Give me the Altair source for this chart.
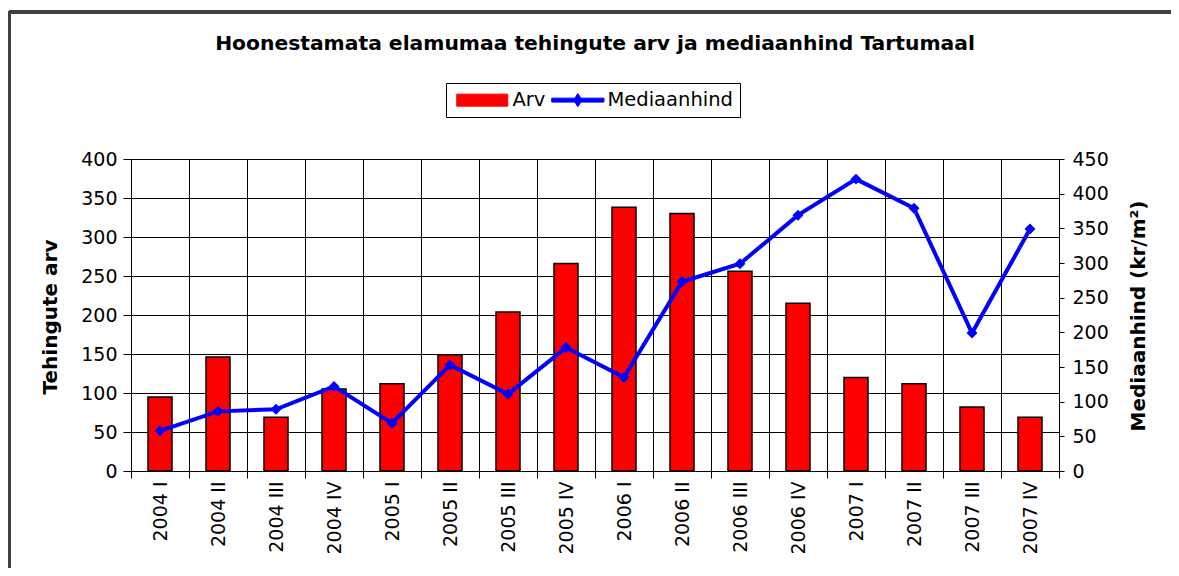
import altair as alt
import pandas as pd

periods = ["2004 I", "2004 II", "2004 III", "2004 IV",
           "2005 I", "2005 II", "2005 III", "2005 IV",
           "2006 I", "2006 II", "2006 III", "2006 IV",
           "2007 I", "2007 II", "2007 III", "2007 IV"]
arv = [95, 146, 69, 105, 112, 149, 204, 266, 338, 330, 256, 215, 120, 112, 82, 69]
mediaanhind = [58, 86, 89, 122, 69, 153, 111, 178, 135, 273, 299, 369, 421, 379, 199, 349]

title_text = "Hoonestamata elamumaa tehingute arv ja mediaanhind Tartumaal"
left_title = "Tehingute arv"
right_title = "Mediaanhind (kr/m²)"
series_names = ["Arv", "Mediaanhind"]
series_colors = ["#FF0000", "#0000FF"]

df = pd.DataFrame({"period": periods, "arv": arv, "mediaan": mediaanhind})

FONT = "DejaVu Sans"

xscale = alt.Scale(type="band", paddingInner=0, paddingOuter=0)
x_axis = alt.Axis(
    title=None, labelAngle=-90, labelAlign="right", labelBaseline="middle",
    labelFont=FONT, labelFontSize=19, labelColor="black", labelPadding=3,
    tickBand="extent", grid=True, gridColor="black", gridWidth=1, gridOpacity=1,
    domainColor="black", domainWidth=1, tickColor="black", tickSize=7,
)

color_scale = alt.Scale(domain=series_names, range=series_colors)
legend = alt.Legend(
    title=None, orient="none", legendX=315, legendY=-76, direction="horizontal",
    strokeColor="black", fillColor="white", padding=7, cornerRadius=0,
    labelFont=FONT, labelFontSize=19.5, labelColor="black", labelOffset=40,
    symbolSize=144, columnPadding=2,
    symbolType=alt.ExprRef("datum.value === 'Arv' ? 'M-1,-1H7.5V1H-1Z' : 'M-1,-0.33H7.7V0.33H-1Z M3.35,-1.1L4.05,0L3.35,1.1L2.65,0Z'"),
    symbolStrokeColor=alt.ExprRef("datum.value === 'Arv' ? 'black' : '#0000FF'"),
    symbolStrokeWidth=1, symbolOpacity=1,
)

bars = alt.Chart(df).transform_calculate(series="'Arv'").mark_bar(
    stroke="black", strokeWidth=1.5, width=alt.RelativeBandSize(0.414)
).encode(
    x=alt.X("period:N", sort=periods, scale=xscale, axis=x_axis),
    y=alt.Y("arv:Q", scale=alt.Scale(domain=[0, 400], nice=False),
            axis=alt.Axis(
                values=list(range(0, 401, 50)), title=left_title,
                titleFont=FONT, titleFontWeight="bold", titleFontSize=20, titleColor="black",
                titleAngle=-90, titleX=-81, titleY=157.5, titleAlign="center", titleBaseline="middle",
                labelFont=FONT, labelFontSize=19, labelColor="black", labelPadding=6,
                grid=True, gridColor="black", gridWidth=1, gridOpacity=1,
                domainColor="black", tickColor="black", tickSize=8,
            )),
    color=alt.Color("series:N", scale=color_scale, legend=legend),
)

line = alt.Chart(df).transform_calculate(series="'Mediaanhind'").mark_line(
    strokeWidth=4,
    point=alt.OverlayMarkDef(shape="diamond", size=120, filled=True, color="#0000FF"),
).encode(
    x=alt.X("period:N", sort=periods, scale=xscale),
    y=alt.Y("mediaan:Q", scale=alt.Scale(domain=[0, 450], nice=False),
            axis=alt.Axis(
                orient="right", values=list(range(0, 451, 50)), title=right_title,
                titleFont=FONT, titleFontWeight="bold", titleFontSize=20, titleColor="black",
                titleAngle=-90, titleX=79, titleY=156.5, titleAlign="center", titleBaseline="middle",
                labelFont=FONT, labelFontSize=19, labelColor="black", labelPadding=8,
                grid=False, domainColor="black", tickColor="black", tickSize=5,
            )),
    color=alt.Color("series:N", scale=color_scale, legend=legend),
)

frame_top = alt.Chart(df).mark_rule(color="#404040", strokeWidth=2.5).encode(
    x=alt.value(-122), x2=alt.value(1040), y=alt.value(-147)
)
frame_left = alt.Chart(df).mark_rule(color="#404040", strokeWidth=2.5).encode(
    x=alt.value(-122), y=alt.value(-148), y2=alt.value(420)
)

chart = alt.layer(bars, line, frame_top, frame_left).resolve_scale(
    y="independent"
).properties(
    width=928, height=312,
    autosize=alt.AutoSizeParams(type="none"),
    padding={"left": 123, "top": 151, "right": 112, "bottom": 97},
    title=alt.TitleParams(
        text=title_text, font=FONT, fontSize=20.3, fontWeight="bold", color="black",
        anchor="middle", baseline="alphabetic", offset=-61,
    ),
).configure_view(
    fill="#FFFF99", stroke=None
).configure(background="white")

chart.save("out.html", embed_options={"renderer": "svg", "actions": False})
